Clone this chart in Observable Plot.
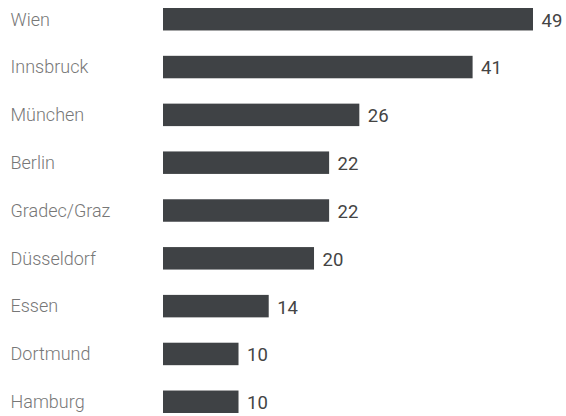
<!DOCTYPE html>
<html><head><meta charset="utf-8">
<script src="https://cdn.jsdelivr.net/npm/d3@7"></script>
<script src="https://cdn.jsdelivr.net/npm/@observablehq/plot@0.6"></script>
<style>body{margin:0;background:#fff}</style>
</head><body><div id="chart"></div>
<script>
const cities = ["Wien","Innsbruck","München","Berlin","Gradec/Graz","Düsseldorf","Essen","Dortmund","Hamburg"];
const counts = [49,41,26,22,22,20,14,10,10];
const data = cities.map((c,i)=>({city:c, value:counts[i]}));
const chart = Plot.plot({
  width:566, height:416,
  marginLeft:163, marginRight:33, marginTop:8, marginBottom:3,
  style:{fontFamily:"Roboto", background:"#fff"},
  x:{domain:[0,49], axis:null},
  y:{domain:cities, axis:null, paddingInner:0.53, paddingOuter:0, round:false},
  marks:[
    Plot.barX(data,{y:"city", x:"value", fill:"#3f4245"}),
    Plot.text(data,{y:"city", x:"value", text:d=>String(d.value), textAnchor:"start", dx:8, dy:1, fontSize:18.5, fill:"#444444", fontWeight:400}),
    Plot.text(data,{y:"city", frameAnchor:"left", text:"city", textAnchor:"start", dx:-153, fontSize:18, fill:"#777777", fontWeight:300})
  ]
});
document.getElementById("chart").append(chart);
</script></body></html>
